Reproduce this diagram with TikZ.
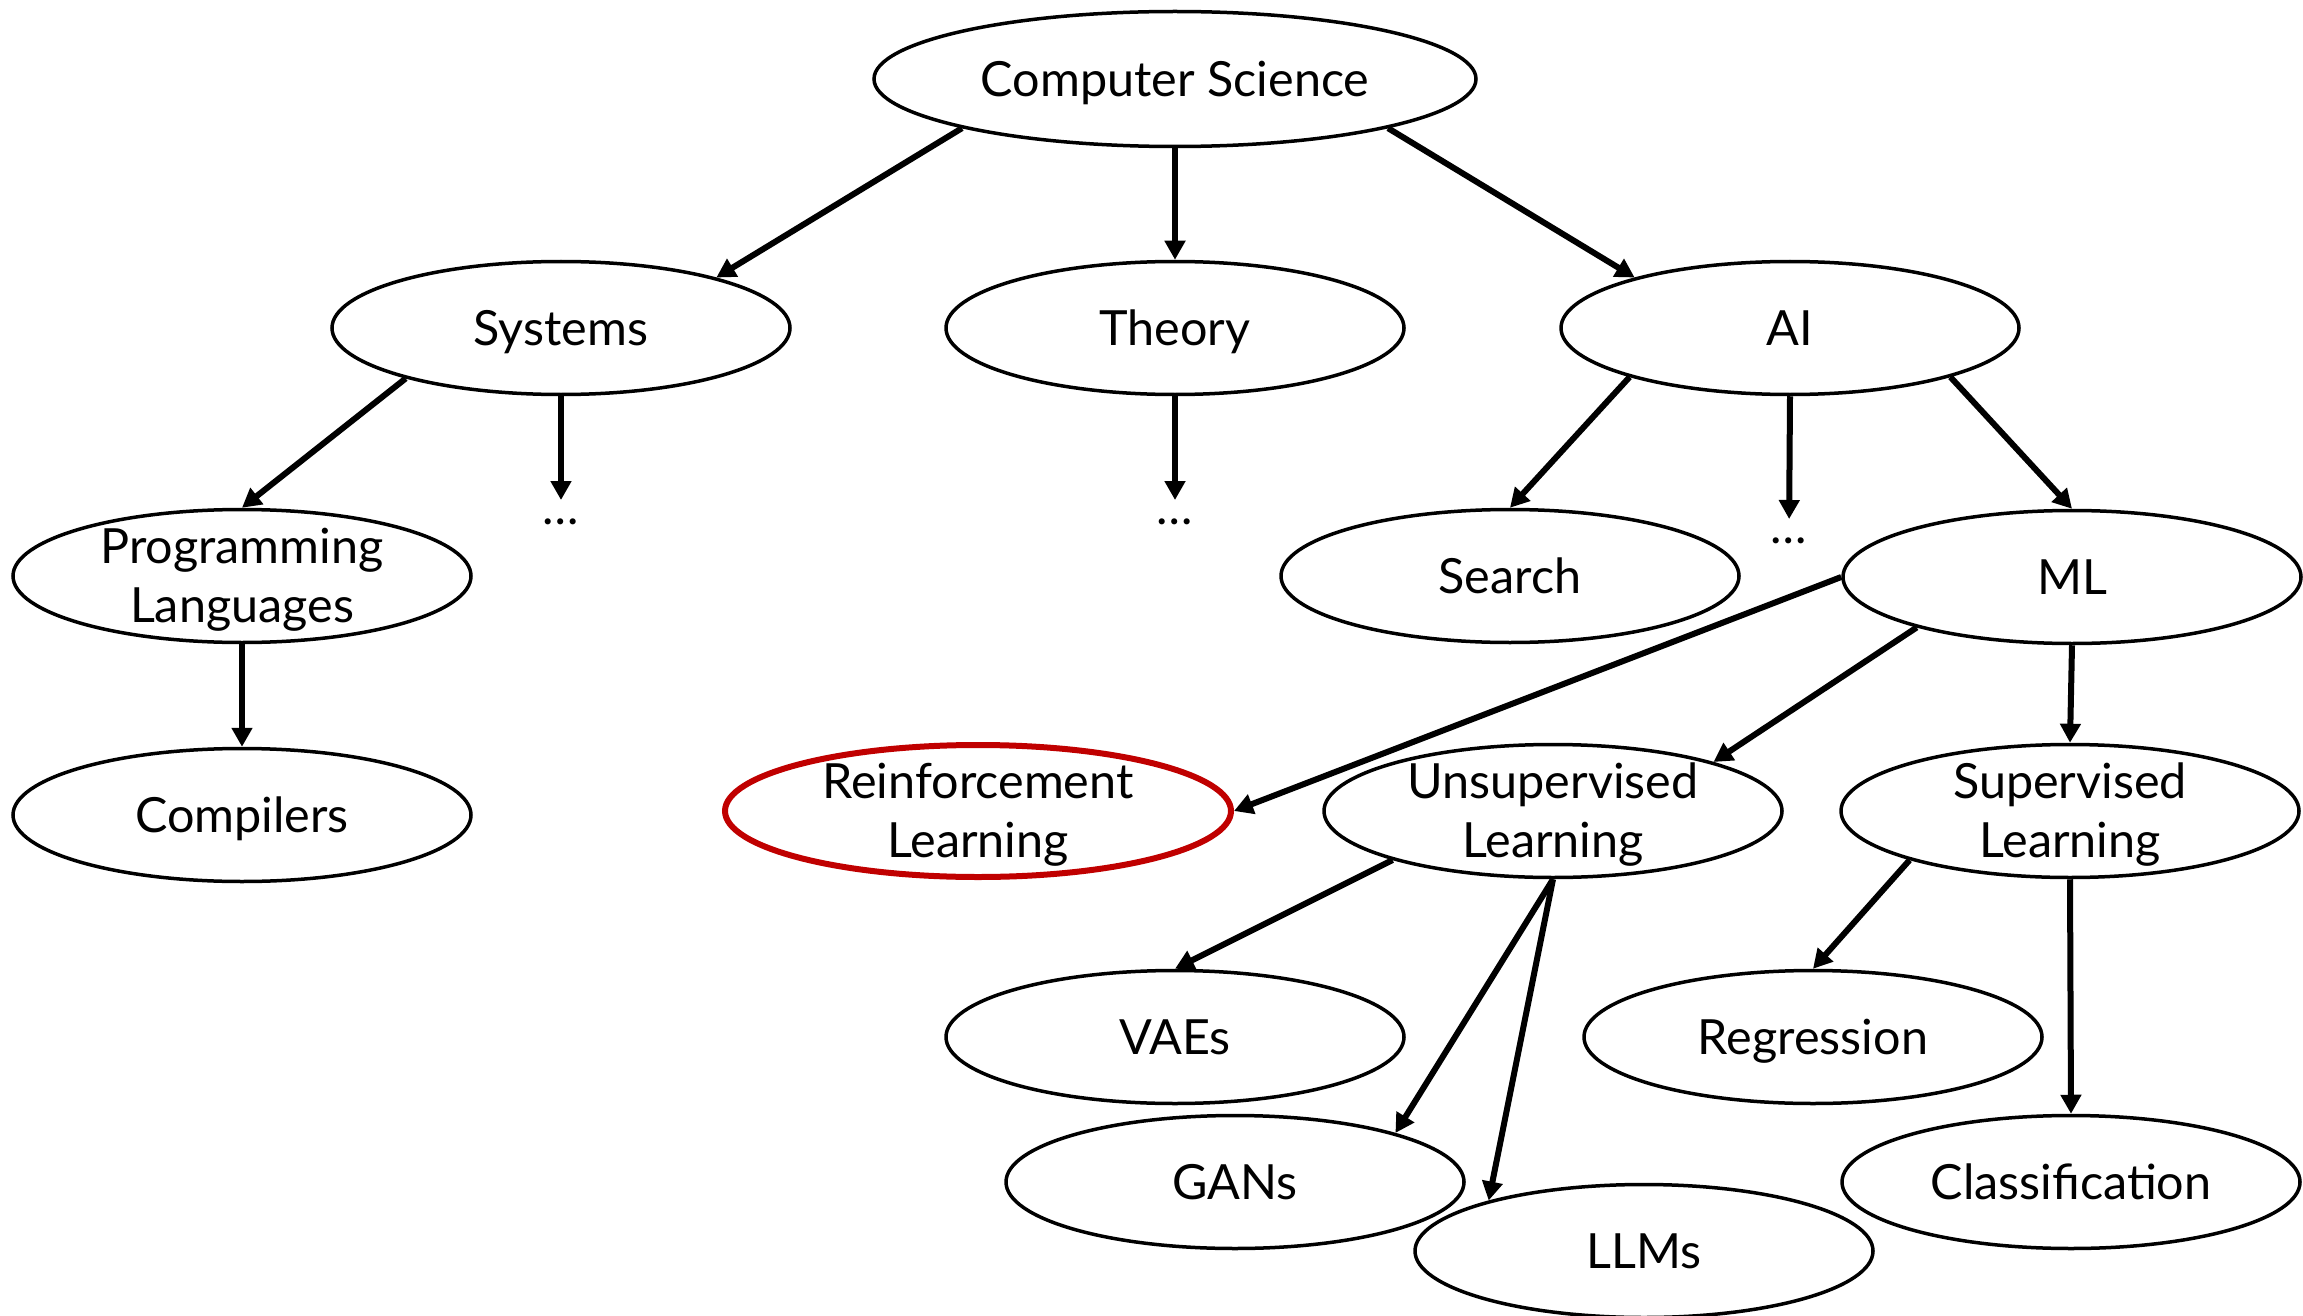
\documentclass[tikz,border=0pt]{standalone}
\usepackage{fontspec}
\setmainfont{Lato}
\usetikzlibrary{shapes.geometric,arrows.meta}
\definecolor{rlred}{HTML}{C00000}
\newcommand{\lblfont}{\fontsize{48.5}{59}\selectfont}
\newcommand{\twolines}[2]{\raisebox{12.1pt}[0pt][0pt]{\begin{tabular}[t]{@{}c@{}}#1\\#2\end{tabular}}}
\tikzset{
  topic/.style={ellipse, draw, line width=3.5pt, minimum width=458pt, minimum height=133pt,
    inner sep=0pt, font=\lblfont, text height=34.75pt, text depth=0pt},
  topictwo/.style={ellipse, draw, line width=3.5pt, minimum width=458pt, minimum height=133pt,
    inner sep=0pt, font=\lblfont},
  hot/.style={topictwo, draw=rlred, line width=6pt, minimum width=506pt, minimum height=132pt},
  arr/.style={-{Triangle[length=19pt,width=20pt]}, line width=6pt},
  more/.style={inner sep=0pt, font=\lblfont}
}
\begin{document}
\begin{tikzpicture}[x=1pt,y=-1pt]
\useasboundingbox (0,0) rectangle (2303,1316);
\clip (0,0) rectangle (2303,1316);
\node[topic, minimum width=602pt, minimum height=135pt] (cs) at (1175,79) {Computer Science};
\node[topic] (sys) at (561,328) {Systems};
\node[topic] (th) at (1175,328) {Theory};
\node[topic] (ai) at (1790,328) {AI};
\node[topictwo] (pl) at (242,576) {\twolines{Programming}{Languages}};
\node[topic] (comp) at (242,815) {Compilers};
\node[topic] (search) at (1510,576) {Search};
\node[topic] (ml) at (2072,577) {ML};
\node[hot] (rl) at (978,811) {\twolines{Reinforcement}{Learning}};
\node[topictwo] (unsup) at (1553,811) {\twolines{Unsupervised}{Learning}};
\node[topictwo] (sup) at (2070,811) {\twolines{Supervised}{Learning}};
\node[topic] (vae) at (1175,1037) {VAEs};
\node[topic] (reg) at (1813,1037) {Regression};
\node[topic] (gan) at (1235,1182) {GANs};
\node[topic] (llm) at (1644,1251) {LLMs};
\node[topic] (cls) at (2071,1182) {Classification};
\node[more, anchor=north] (d1) at (561,519) {…};
\node[more, anchor=north] (d2) at (1175,519) {…};
\node[more, anchor=north] (d3) at (1789,538) {…};
\draw[arr] (cs.193) -- (sys.18);
\draw[arr] (cs.south) -- (th.north);
\draw[arr] (cs.347) -- (ai.162);
\draw[arr] (sys.198) -- (pl.north);
\draw[arr, shorten >=19pt] (sys.south) -- (d1.north);
\draw[arr, shorten >=19pt] (th.south) -- (d2.north);
\draw[arr] (ai.197) -- (search.north);
\draw[arr, shorten >=19pt] (ai.south) -- (d3.north);
\draw[arr] (ai.343) -- (ml.north);
\draw[arr] (pl.south) -- (comp.north);
\draw[arr] (ml.west) -- (rl.east);
\draw[arr] (ml.198) -- (unsup.17);
\draw[arr] (ml.south) -- (sup.north);
\draw[arr] (unsup.197) -- (vae.north);
\draw[arr] (unsup.south) -- (gan.17);
\draw[arr] (unsup.south) -- (llm.162);
\draw[arr] (sup.197) -- (reg.north);
\draw[arr] (sup.south) -- (cls.north);
\end{tikzpicture}
\end{document}
